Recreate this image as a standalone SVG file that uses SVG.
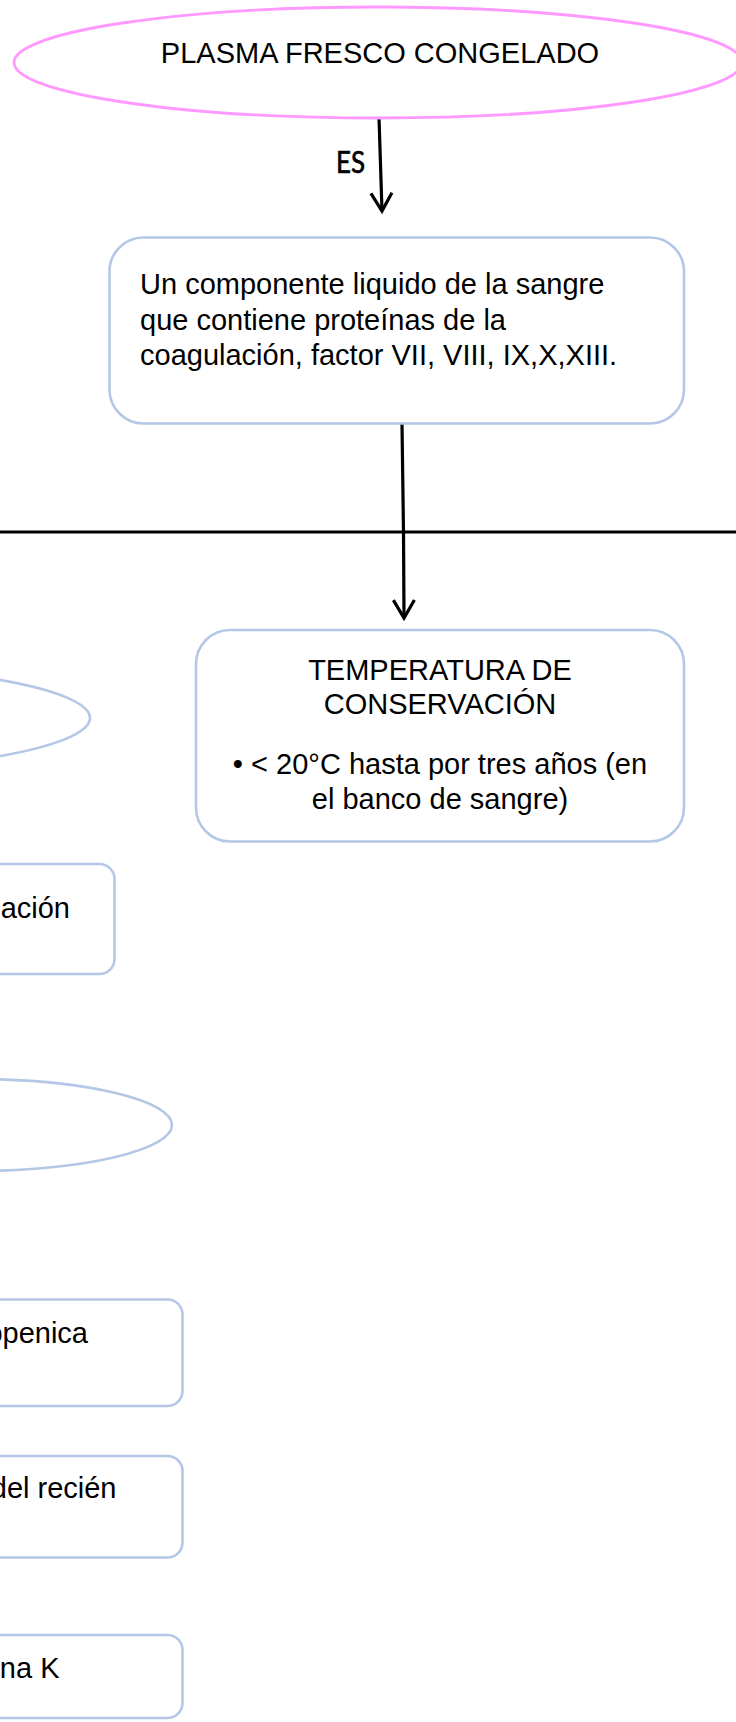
<svg xmlns="http://www.w3.org/2000/svg" width="736" height="1722" viewBox="0 0 736 1722">
<style>
.t{font-family:"Liberation Sans",Arial,sans-serif;font-size:29px;fill:#000}
.c{text-anchor:middle}
.e{text-anchor:end}
.box{fill:#fff;stroke:#B4C7E7;stroke-width:2.6}
.pink{fill:#fff;stroke:#FF99FF;stroke-width:2.8}
.ln{fill:none;stroke:#000;stroke-width:3.2}
.lbl{font-family:Lato,"Open Sans",sans-serif;font-size:31px;fill:#000;stroke:#000;stroke-width:0.7;text-anchor:middle}
</style>
<defs>
<marker id="ah" markerUnits="userSpaceOnUse" markerWidth="24" markerHeight="26" refX="19" refY="11" orient="auto" overflow="visible">
<path d="M1,0.5 L19,11 L1,21.5" fill="none" stroke="#000" stroke-width="3.2" stroke-linejoin="miter"/>
</marker>
</defs>
<rect width="736" height="1722" fill="#fff"/>
<g id="connectors">
<path class="ln" d="M379,118 L382,211" marker-end="url(#ah)"/>
<text class="lbl" x="350.5" y="173" textLength="29" lengthAdjust="spacingAndGlyphs">ES</text>
<path class="ln" d="M402,424 L403.5,532"/>
<path class="ln" d="M0,532 L736,532" stroke-width="4"/>
<path class="ln" d="M403.5,532 L404,618" marker-end="url(#ah)"/>
</g>
<g id="node-plasma">
<ellipse class="pink" cx="378" cy="62.5" rx="364" ry="55.5"/>
<text class="t c" x="380" y="63">PLASMA FRESCO CONGELADO</text>
</g>
<g id="node-componente">
<rect class="box" x="109.5" y="237.5" width="574.5" height="186" rx="34"/>
<text class="t" x="140" y="294">Un componente liquido de la sangre</text>
<text class="t" x="140" y="329.5">que contiene proteínas de la</text>
<text class="t" x="140" y="365">coagulación, factor VII, VIII, IX,X,XIII.</text>
</g>
<g id="node-temperatura">
<rect class="box" x="196" y="630" width="488" height="211.5" rx="34"/>
<text class="t c" x="440" y="680">TEMPERATURA DE</text>
<text class="t c" x="440" y="713.5">CONSERVACIÓN</text>
<text class="t c" x="440" y="773.5">• &lt; 20°C hasta por tres años (en</text>
<text class="t c" x="440" y="808.5">el banco de sangre)</text>
</g>
<g id="node-ellipse-left-1">
<ellipse class="box" cx="-247" cy="718" rx="337" ry="56"/>
</g>
<g id="node-box-left-1">
<rect class="box" x="-40" y="864" width="154.5" height="110" rx="15"/>
<text class="t e" x="70" y="918">ación</text>
</g>
<g id="node-ellipse-left-2">
<ellipse class="box" cx="-28" cy="1125" rx="200" ry="46"/>
</g>
<g id="node-box-left-2">
<rect class="box" x="-40" y="1299.5" width="222.5" height="106.5" rx="15"/>
<text class="t e" x="88" y="1343">openica</text>
</g>
<g id="node-box-left-3">
<rect class="box" x="-40" y="1456" width="222.5" height="101.5" rx="15"/>
<text class="t e" x="116.5" y="1498">del recién</text>
</g>
<g id="node-box-left-4">
<rect class="box" x="-40" y="1635" width="222.5" height="83" rx="15"/>
<text class="t e" x="59.5" y="1678">na K</text>
</g>
</svg>
